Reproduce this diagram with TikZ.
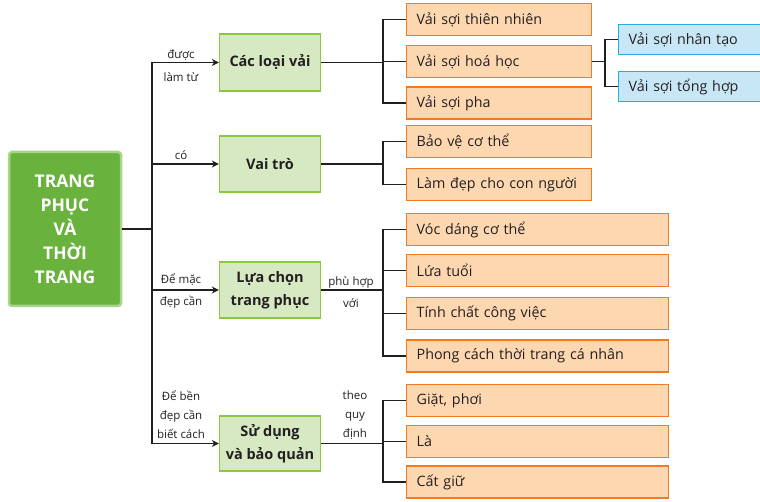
\documentclass[tikz,border=0pt]{standalone}
\usepackage{fontspec}
\setmainfont{Open Sans}
\usetikzlibrary{arrows.meta}
\definecolor{ink}{HTML}{231F20}
\definecolor{mainfill}{HTML}{6AB23E}
\definecolor{mainedge}{HTML}{A8D58A}
\definecolor{lgfill}{HTML}{D6E9C2}
\definecolor{lgedge}{HTML}{8DC63F}
\definecolor{orfill}{HTML}{FDD7B0}
\definecolor{oredge}{HTML}{F37A21}
\definecolor{blfill}{HTML}{C8E7F6}
\definecolor{bledge}{HTML}{2AABE2}
\tikzset{
  mainbox/.style={fill=mainfill,draw=mainedge,line width=2.5pt,rounded corners=3pt,minimum width=112pt,minimum height=154pt,inner sep=0pt,align=center,text=white,font=\fontsize{17.5}{24}\selectfont\bfseries},
  lvbox/.style={fill=lgfill,draw=lgedge,line width=1.4pt,minimum width=101pt,inner sep=0pt,align=center,text=ink,font=\fontsize{14.5}{23.5}\selectfont\bfseries},
  orbox/.style={fill=orfill,draw=oredge,line width=1.4pt,minimum height=32pt,inner sep=0pt,inner xsep=10pt,anchor=west,text=ink,font=\fontsize{14.3}{16}\selectfont,text width=#1,align=left},
  blbox/.style={fill=blfill,draw=bledge,line width=1.4pt,minimum height=30pt,inner sep=0pt,inner xsep=10pt,anchor=west,text=ink,font=\fontsize{14.3}{16}\selectfont,text width=150pt,align=left},
  conn/.style={draw=ink,line width=1.8pt},
  arr/.style={conn,-{Stealth[length=7pt,width=7pt]}},
  lbl/.style={text=ink,font=\fontsize{11.5}{#1}\selectfont,align=center,inner sep=0pt},
  lbl/.default=22
}
\begin{document}
\begin{tikzpicture}[x=1pt,y=-1pt]
\useasboundingbox (0,0) rectangle (760,502);
\fill[white] (0,0) rectangle (760,502);
% main
\node[mainbox] (main) at (65,229) {TRANG\\PHỤC\\VÀ\\THỜI\\TRANG};
% level boxes
\node[lvbox,minimum height=57pt] (l1) at (270,62.5) {Các loại vải};
\node[lvbox,minimum height=56pt] (l2) at (270,164) {Vai trò};
\node[lvbox,minimum height=56pt] (l3) at (270,290) {Lựa chọn\\trang phục};
\node[lvbox,minimum height=55pt] (l4) at (270,443.5) {Sử dụng\\và bảo quản};
% trunk
\coordinate (tk) at (152,229);
\coordinate (tkx) at (152,0);
\draw[conn] (main.east) -- (tk);
\draw[conn] (l1.west -| tkx) -- (l4.west -| tkx);
\draw[arr] (l1.west -| tkx) -- (l1.west);
\draw[arr] (l2.west -| tkx) -- (l2.west);
\draw[arr] (l3.west -| tkx) -- (l3.west);
\draw[arr] (l4.west -| tkx) -- (l4.west);
% trunk labels
\node[lbl=23] (t1) at (181,65.5) {được\\làm từ};
\node[lbl] (t2) at (181,155) {có};
\node[lbl] (t3) at (181,291) {Để mặc\\đẹp cần};
\node[lbl=19] (t4) at (181,415) {Để bền\\đẹp cần\\biết cách};
% orange boxes
\node[orbox=165pt] (o11) at (406,19.5) {Vải sợi thiên nhiên};
\node[orbox=165pt] (o12) at (406,61.5) {Vải sợi hoá học};
\node[orbox=165pt] (o13) at (406,103) {Vải sợi pha};
\node[orbox=165pt] (o21) at (406,141.5) {Bảo vệ cơ thể};
\node[orbox=165pt] (o22) at (406,184.5) {Làm đẹp cho con người};
\node[orbox=242pt] (o31) at (406,229.5) {Vóc dáng cơ thể};
\node[orbox=242pt] (o32) at (406,270.5) {Lứa tuổi};
\node[orbox=242pt] (o33) at (406,313.5) {Tính chất công việc};
\node[orbox=242pt] (o34) at (406,356) {Phong cách thời trang cá nhân};
\node[orbox=242pt] (o41) at (406,400.5) {Giặt, phơi};
\node[orbox=242pt] (o42) at (406,441.5) {Là};
\node[orbox=242pt] (o43) at (406,482) {Cất giữ};
% blue boxes
\node[blbox] (b1) at (618,39.5) {Vải sợi nhân tạo};
\node[blbox] (b2) at (618,86.5) {Vải sợi tổng hợp};
% sub trunks
\coordinate (sx) at (383,0);
\coordinate (bx) at (605,0);
\draw[conn] (l1.east) -- (l1.east -| sx);
\draw[conn] (o11.west) -| (sx |- o13.west) -- (o13.west);
\draw[conn] (sx |- o12.west) -- (o12.west);
\draw[conn] (o12.east) -- (o12.east -| bx);
\draw[conn] (b1.west) -| (bx |- b2.west) -- (b2.west);
\draw[conn] (l2.east) -- (l2.east -| sx);
\draw[conn] (o21.west) -| (sx |- o22.west) -- (o22.west);
\draw[conn] (l3.east) -- (l3.east -| sx);
\draw[conn] (o31.west) -| (sx |- o34.west) -- (o34.west);
\draw[conn] (sx |- o32.west) -- (o32.west);
\draw[conn] (sx |- o33.west) -- (o33.west);
\draw[conn] (l4.east) -- (l4.east -| sx);
\draw[conn] (o41.west) -| (sx |- o43.west) -- (o43.west);
\draw[conn] (sx |- o42.west) -- (o42.west);
% sub labels
\node[lbl] (s3) at (351,292) {phù hợp\\với};
\node[lbl=19] (s4) at (355,415) {theo\\quy\\định};
\end{tikzpicture}
\end{document}
